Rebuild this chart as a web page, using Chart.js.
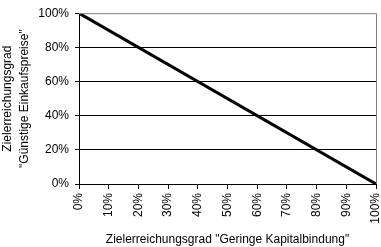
<!DOCTYPE html>
<html><head><meta charset="utf-8">
<script src="https://cdn.jsdelivr.net/npm/chart.js@4"></script>
<style>html,body{margin:0;padding:0;background:#fff}#w{width:381px;height:247px}</style>
</head><body><div id="w"><canvas id="c" width="381" height="247"></canvas></div>
<script>
const xValues = [0, 100];
const yValues = [100, 0];
const xTicks = [0,10,20,30,40,50,60,70,80,90,100];
const yTicks = [0,20,40,60,80,100];
const xTitle = 'Zielerreichungsgrad "Geringe Kapitalbindung"';
const yTitle = ['Zielerreichungsgrad', '"Günstige Einkaufspreise"'];

const font = {family: 'Liberation Sans, Arial, sans-serif', size: 12};
const titleFont = {family: 'Liberation Sans, Arial, sans-serif', size: 12, lineHeight: 1.35};
const borderPlugin = {
  id: 'border',
  afterDraw(chart) {
    const a = chart.chartArea, c = chart.ctx;
    c.save(); c.strokeStyle = '#808080'; c.lineWidth = 1;
    c.beginPath();
    c.moveTo(a.left, a.top + 0.5); c.lineTo(a.right + 0.5, a.top + 0.5); c.lineTo(a.right + 0.5, a.bottom);
    c.stroke(); c.restore();
  }
};
new Chart(document.getElementById('c'), {
  type: 'line',
  data: { datasets: [{ data: xValues.map((x,i)=>({x, y: yValues[i]})), borderColor: '#000', borderWidth: 3, pointRadius: 0, tension: 0 }] },
  options: {
    responsive: false, animation: false,
    layout: { padding: { top: 8, right: 5 } },
    plugins: { legend: { display: false }, tooltip: { enabled: false } },
    scales: {
      x: {
        type: 'linear', min: 0, max: 100,
        afterBuildTicks: s => { s.ticks = xTicks.map(v => ({value: v})); },
        afterFit: s => { s.height = 63; s.paddingRight = 0; s.paddingLeft = 0; },
        ticks: { color: '#000', font, maxRotation: 90, minRotation: 90, padding: 4, callback: v => v + '%' },
        grid: { drawOnChartArea: false, tickLength: 5, tickColor: '#000', color: '#000' },
        border: { color: '#000' },
        title: { display: true, text: xTitle, color: '#000', font, padding: { top: 6, bottom: 0 } }
      },
      y: {
        min: 0, max: 100,
        afterBuildTicks: s => { s.ticks = yTicks.map(v => ({value: v})); },
        afterFit: s => { s.width = 79; },
        ticks: { color: '#000', font, padding: 6, callback: v => v + '%' },
        grid: { color: ctx => ctx.tick && ctx.tick.value === 100 ? 'rgba(0,0,0,0)' : '#000', tickLength: 4, tickColor: '#000' },
        border: { color: '#000' },
        title: { display: true, text: yTitle, color: '#000', font: titleFont, padding: { top: 0, bottom: 4 } }
      }
    }
  },
  plugins: [borderPlugin]
});
</script></body></html>
